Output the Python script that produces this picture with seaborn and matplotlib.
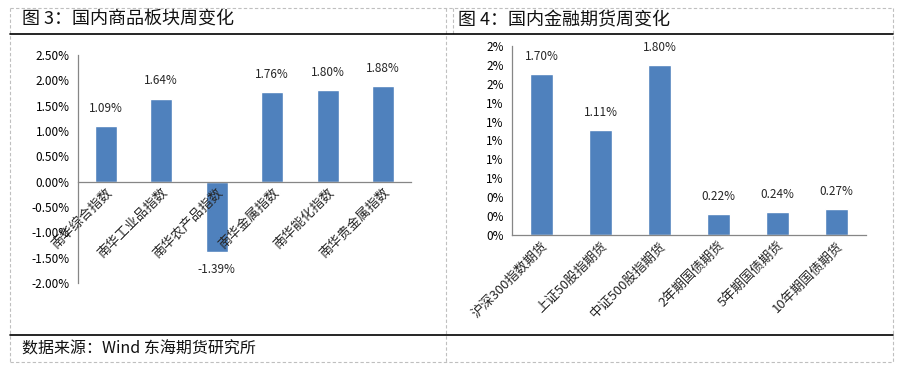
import matplotlib
matplotlib.use("Agg")
import matplotlib.pyplot as plt
import seaborn as sns
import pandas as pd
from matplotlib.lines import Line2D
from matplotlib.ticker import FuncFormatter, MultipleLocator

sns.set_theme(style="white")
plt.rcParams['font.family'] = ['Noto Sans CJK SC', 'DejaVu Sans']

left_title = "图 3：国内商品板块周变化"
left_cats = ["南华综合指数", "南华工业品指数", "南华农产品指数", "南华金属指数", "南华能化指数", "南华贵金属指数"]
left_vals = [1.09, 1.64, -1.39, 1.76, 1.80, 1.88]

right_title = "图 4：国内金融期货周变化"
right_cats = ["沪深300指数期货", "上证50股指期货", "中证500股指期货", "2年期国债期货", "5年期国债期货", "10年期国债期货"]
right_vals = [1.70, 1.11, 1.80, 0.22, 0.24, 0.27]

source_text = "数据来源：Wind 东海期货研究所"

BAR = "#4F81BD"
AX = "#868686"

fig = plt.figure(figsize=(8.98, 3.70), dpi=100)
W, H = 898, 370

def fx(x):
    return x / W

def fy(y):
    return 1 - y / H

def style_axes(ax):
    ax.set_axisbelow(False)
    for s in ["top", "right"]:
        ax.spines[s].set_visible(False)
    for s in ["left", "bottom"]:
        ax.spines[s].set_color(AX)
        ax.spines[s].set_linewidth(0.9)
    ax.tick_params(axis="y", direction="out", length=4, color=AX, width=0.9,
                   labelsize=8.5, labelcolor="#000000", pad=2)
    ax.tick_params(axis="x", which="major", length=0, labelsize=9.5, pad=3)
    ax.tick_params(axis="x", which="minor", direction="out", length=4, color=AX, width=0.9)
    ax.set_xlabel("")
    ax.set_ylabel("")
    ax.grid(False)

# Left chart
axL = fig.add_axes([fx(78), fy(283), fx(411) - fx(78), fy(55) - fy(283)])
dfL = pd.DataFrame({"cat": left_cats, "val": left_vals})
sns.barplot(data=dfL, x="cat", y="val", color=BAR, width=0.4, ax=axL, saturation=1)
axL.set_ylim(-2.0, 2.5)
axL.set_xlim(-0.5, len(left_cats) - 0.5)
axL.yaxis.set_major_locator(MultipleLocator(0.5))
axL.yaxis.set_major_formatter(FuncFormatter(lambda v, p: f"{v:.2f}%"))
axL.spines["bottom"].set_position(("data", 0))
axL.set_xticks([i + 0.5 for i in range(-1, len(left_cats))], minor=True)
style_axes(axL)
axL.set_xticks(range(len(left_cats)))
axL.set_xticklabels(left_cats, rotation=45, ha="right", rotation_mode="anchor")
axL.bar_label(axL.containers[0], labels=[f"{v:.2f}%" for v in left_vals], padding=8, fontsize=8.5)

# Right chart
axR = fig.add_axes([fx(512), fy(235), fx(866) - fx(512), fy(46) - fy(235)])
dfR = pd.DataFrame({"cat": right_cats, "val": right_vals})
sns.barplot(data=dfR, x="cat", y="val", color=BAR, width=0.38, ax=axR, saturation=1)
axR.set_ylim(0, 2.0)
axR.set_xlim(-0.5, len(right_cats) - 0.5)
axR.yaxis.set_major_locator(MultipleLocator(0.2))
axR.yaxis.set_major_formatter(FuncFormatter(lambda v, p: f"{round(v + 1e-9):.0f}%"))
axR.set_xticks([i + 0.5 for i in range(-1, len(right_cats))], minor=True)
style_axes(axR)
axR.set_xticks(range(len(right_cats)))
axR.set_xticklabels(right_cats, rotation=45, ha="right", rotation_mode="anchor")
axR.bar_label(axR.containers[0], labels=[f"{v:.2f}%" for v in right_vals], padding=8, fontsize=8.5)

# Frame lines
dash = dict(color="#BFBFBF", lw=0.8, ls=(0, (3, 2)))
for xs, ys in [((10, 10), (8, 362)), ((446, 446), (8, 362)), ((453, 453), (8, 34)),
               ((893, 893), (8, 362)), ((10, 893), (8, 8)), ((10, 893), (362, 362))]:
    fig.add_artist(Line2D([fx(xs[0]), fx(xs[1])], [fy(ys[0]), fy(ys[1])], **dash))
for ys in [34, 335]:
    fig.add_artist(Line2D([fx(10), fx(893)], [fy(ys), fy(ys)], color="black", lw=1.2))

fig.text(fx(22), fy(20), left_title, fontsize=13, va="center", ha="left", color="#111111")
fig.text(fx(458), fy(20), right_title, fontsize=13, va="center", ha="left", color="#111111")
fig.text(fx(22), fy(349), source_text, fontsize=11.5, va="center", ha="left", color="#111111")

fig.savefig("out.png", dpi=100, facecolor="white")
